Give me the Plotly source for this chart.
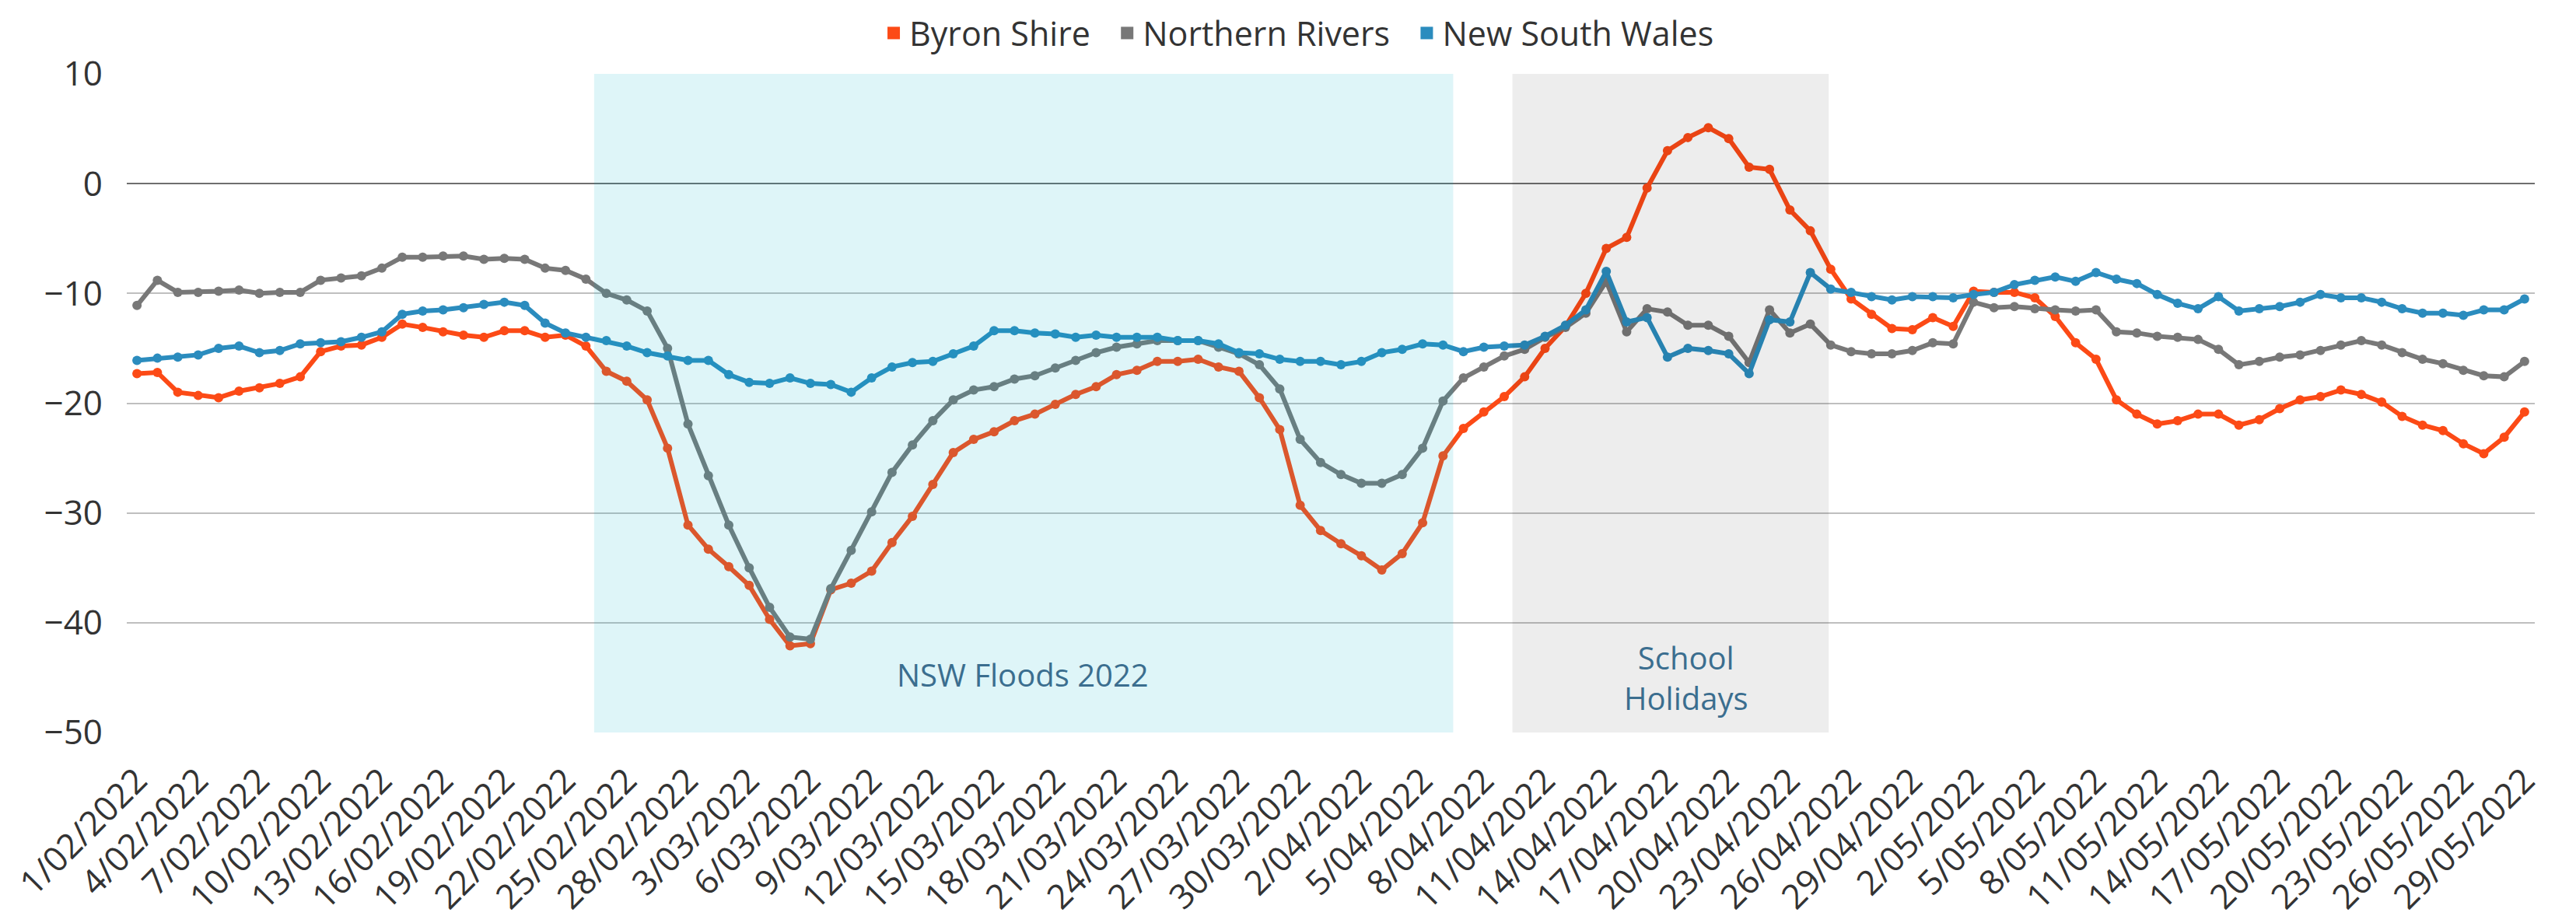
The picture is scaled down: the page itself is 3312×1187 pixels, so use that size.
import pandas as pd
import plotly.graph_objects as go

# daily dates, 1 Feb - 29 May 2022
dates = pd.date_range("2022-02-01", "2022-05-29", freq="D")
labels = [f"{d.day}/{d.month:02d}/{d.year}" for d in dates]

byron = [-17.3, -17.2, -19.0, -19.3, -19.5, -18.9, -18.6, -18.2, -17.6, -15.3,
         -14.8, -14.7, -14.0, -12.8, -13.1, -13.5, -13.8, -14.0, -13.4, -13.4,
         -14.0, -13.8, -14.8, -17.1, -18.0, -19.7, -24.1, -31.1, -33.3, -34.9,
         -36.6, -39.7, -42.1, -41.9, -37.0, -36.4, -35.3, -32.7, -30.3, -27.4,
         -24.5, -23.3, -22.6, -21.6, -21.0, -20.1, -19.2, -18.5, -17.4, -17.0,
         -16.2, -16.2, -16.0, -16.7, -17.1, -19.5, -22.4, -29.3, -31.6, -32.8,
         -33.9, -35.2, -33.7, -30.9, -24.8, -22.3, -20.8, -19.4, -17.6, -15.0,
         -13.0, -10.0, -5.9, -4.9, -0.4, 3.0, 4.2, 5.1, 4.1, 1.5,
         1.3, -2.4, -4.3, -7.8, -10.5, -11.9, -13.2, -13.3, -12.2, -13.0,
         -9.8, -9.9, -9.9, -10.4, -12.1, -14.5, -16.0, -19.7, -21.0, -21.9,
         -21.6, -21.0, -21.0, -22.0, -21.5, -20.5, -19.7, -19.4, -18.8, -19.2,
         -19.9, -21.2, -22.0, -22.5, -23.7, -24.6, -23.1, -20.8]

northern_rivers = [-11.1, -8.8, -9.9, -9.9, -9.8, -9.7, -10.0, -9.9, -9.9, -8.8,
                   -8.6, -8.4, -7.7, -6.7, -6.7, -6.6, -6.6, -6.9, -6.8, -6.9,
                   -7.7, -7.9, -8.7, -10.0, -10.6, -11.6, -15.0, -21.9, -26.6, -31.1,
                   -35.0, -38.6, -41.3, -41.5, -36.9, -33.4, -29.9, -26.3, -23.8, -21.6,
                   -19.7, -18.8, -18.5, -17.8, -17.5, -16.8, -16.1, -15.4, -14.9, -14.6,
                   -14.3, -14.3, -14.3, -14.9, -15.5, -16.5, -18.7, -23.3, -25.4, -26.5,
                   -27.3, -27.3, -26.5, -24.1, -19.8, -17.7, -16.7, -15.7, -15.1, -14.0,
                   -13.1, -11.8, -8.9, -13.5, -11.4, -11.7, -12.9, -12.9, -13.9, -16.3,
                   -11.5, -13.6, -12.8, -14.7, -15.3, -15.5, -15.5, -15.2, -14.5, -14.6,
                   -10.8, -11.3, -11.2, -11.4, -11.5, -11.6, -11.5, -13.5, -13.6, -13.9,
                   -14.0, -14.2, -15.1, -16.5, -16.2, -15.8, -15.6, -15.2, -14.7, -14.3,
                   -14.7, -15.4, -16.0, -16.4, -17.0, -17.5, -17.6, -16.2]

nsw = [-16.1, -15.9, -15.8, -15.6, -15.0, -14.8, -15.4, -15.2, -14.6, -14.5,
       -14.4, -14.0, -13.5, -11.9, -11.6, -11.5, -11.3, -11.0, -10.8, -11.1,
       -12.7, -13.6, -14.0, -14.3, -14.8, -15.4, -15.7, -16.1, -16.1, -17.4,
       -18.1, -18.2, -17.7, -18.2, -18.3, -19.0, -17.7, -16.7, -16.3, -16.2,
       -15.5, -14.8, -13.4, -13.4, -13.6, -13.7, -14.0, -13.8, -14.0, -14.0,
       -14.0, -14.3, -14.3, -14.6, -15.4, -15.5, -16.0, -16.2, -16.2, -16.5,
       -16.2, -15.4, -15.1, -14.6, -14.7, -15.3, -14.9, -14.8, -14.7, -13.9,
       -12.9, -11.5, -8.0, -12.6, -12.2, -15.8, -15.0, -15.2, -15.5, -17.3,
       -12.4, -12.6, -8.1, -9.6, -9.9, -10.3, -10.6, -10.3, -10.3, -10.4,
       -10.1, -9.9, -9.2, -8.8, -8.5, -8.9, -8.1, -8.7, -9.1, -10.1,
       -10.9, -11.4, -10.3, -11.6, -11.4, -11.2, -10.8, -10.1, -10.4, -10.4,
       -10.8, -11.4, -11.8, -11.8, -12.0, -11.5, -11.5, -10.5]

series = [("Byron Shire", byron, "#FC4A16"),
          ("Northern Rivers", northern_rivers, "#787878"),
          ("New South Wales", nsw, "#2B8CBE")]

FONT = "Open Sans"
PAD = "\u00a0" * 2  # extra room between legend entries

fig = go.Figure()
for name, vals, col in series:
    fig.add_trace(go.Scatter(x=labels, y=vals, mode="lines+markers", name=name,
                             line=dict(color=col, width=6),
                             marker=dict(color=col, size=12),
                             showlegend=False))
    # legend entry shown as a small square, like the original
    fig.add_trace(go.Scatter(x=[None], y=[None], mode="markers", name=name + PAD,
                             marker=dict(color=col, size=17, symbol="square")))

pos = labels.index
# shaded periods (drawn over the lines, semi-transparent)
fig.add_shape(type="rect", xref="x", yref="paper",
              x0=pos("23/02/2022") + 0.4, x1=pos("6/04/2022") + 0.5, y0=0, y1=1,
              fillcolor="rgba(0,180,200,0.13)", line_width=0, layer="above")
fig.add_shape(type="rect", xref="x", yref="paper",
              x0=pos("9/04/2022") + 0.4, x1=pos("24/04/2022") + 0.9, y0=0, y1=1,
              fillcolor="rgba(0,0,0,0.07)", line_width=0, layer="above")

fig.add_annotation(x=pos("16/03/2022") + 0.4, y=-44.7, text="NSW Floods 2022",
                   showarrow=False, font=dict(family=FONT, size=40, color="#3B6E8F"))
fig.add_annotation(x=pos("17/04/2022") + 0.9, y=-45.0, text="School<br>Holidays",
                   showarrow=False, font=dict(family=FONT, size=40, color="#3B6E8F"))

# page body adds an 8px margin, so the figure is 8px smaller than the window
fig.update_layout(
    width=3304, height=1179,
    margin=dict(l=155, r=53, t=87, b=245, autoexpand=False),
    plot_bgcolor="white", paper_bgcolor="white",
    font=dict(family=FONT, size=44, color="#333333"),
    legend=dict(orientation="h", x=0.49, xanchor="center", y=1.062, yanchor="middle",
                font=dict(size=43, color="#333333"), itemwidth=30,
                bgcolor="rgba(0,0,0,0)"),
)
fig.update_xaxes(type="category", range=[-0.5, len(labels) - 0.5],
                 tickmode="array", tickvals=labels[::3], ticktext=labels[::3],
                 tickangle=-45, showgrid=False, showline=False, ticks="",
                 ticklabelstandoff=26)
fig.update_yaxes(range=[-50, 10], dtick=10, showgrid=True, gridcolor="#BFBFBF",
                 gridwidth=2, zeroline=True, zerolinecolor="#6E6E6E",
                 zerolinewidth=2, showline=False, ticks="", ticklabelstandoff=30)

fig.write_html("out.html")
